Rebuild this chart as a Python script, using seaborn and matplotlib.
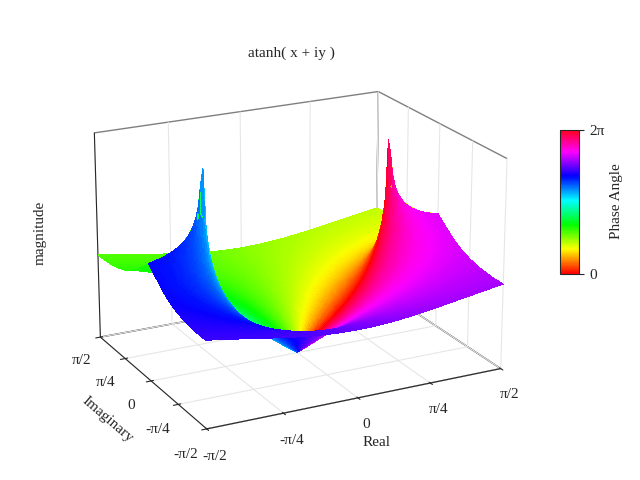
import numpy as np
import matplotlib
matplotlib.use("Agg")
import matplotlib.pyplot as plt
import seaborn as sns
from matplotlib import cm, colors

sns.set_style("white")
plt.rcParams['font.family'] = ['Liberation Serif', 'DejaVu Sans']

real_vals = np.linspace(-np.pi/2, np.pi/2, 121)
imag_vals = np.linspace(-np.pi/2, np.pi/2, 121)
tick_vals = [-np.pi/2, -np.pi/4, 0, np.pi/4, np.pi/2]
tick_labels = ['-π/2', '-π/4', '0', 'π/4', 'π/2']

X, Y = np.meshgrid(real_vals, imag_vals)
W = np.arctanh(X + 1j*Y + 1e-9)
Z = np.clip(np.abs(W), 0, 3.0)
P = np.mod(np.angle(W), 2*np.pi)

fig = plt.figure(figsize=(6.4, 4.8), dpi=100)
ax = fig.add_axes([0.03, -0.01, 0.85, 0.95], projection='3d')
cmap = cm.hsv
norm = colors.Normalize(0, 2*np.pi)
ax.plot_surface(X, Y, Z, facecolors=cmap(norm(P)), rstride=1, cstride=1,
                linewidth=0, antialiased=False, shade=False)
ax.set_xlim(-np.pi/2, np.pi/2)
ax.set_ylim(-np.pi/2, np.pi/2)
ax.set_zlim(0, 3.1)
ax.set_box_aspect((1.25, 1, 0.85))
ax.set_xticks(tick_vals); ax.set_xticklabels(tick_labels, fontsize=11)
ax.set_yticks(tick_vals); ax.set_yticklabels(tick_labels, fontsize=11)
ax.set_zticks([])
ax.set_xlabel('Real', fontsize=11)
ax.set_ylabel('Imaginary', fontsize=11)
ax.zaxis.set_rotate_label(False)
ax.set_zlabel('magnitude', fontsize=11, rotation=90)
ax.view_init(elev=20, azim=-117)
for a in (ax.xaxis, ax.yaxis, ax.zaxis):
    a.pane.fill = False
    a.pane.set_edgecolor('black')
    a._axinfo['grid']['color'] = (0.9, 0.9, 0.9, 1)
ax.grid(True)
ax.set_title('atanh( x + iy )', fontsize=11, y=1.0)

cax = fig.add_axes([0.875, 0.43, 0.03, 0.3])
cb = fig.colorbar(cm.ScalarMappable(norm=norm, cmap=cmap), cax=cax, ticks=[0, 2*np.pi])
cb.ax.set_yticklabels(['0', '2π'], fontsize=11)
cb.set_label('Phase Angle', fontsize=11)
fig.savefig('out.png', dpi=100)
